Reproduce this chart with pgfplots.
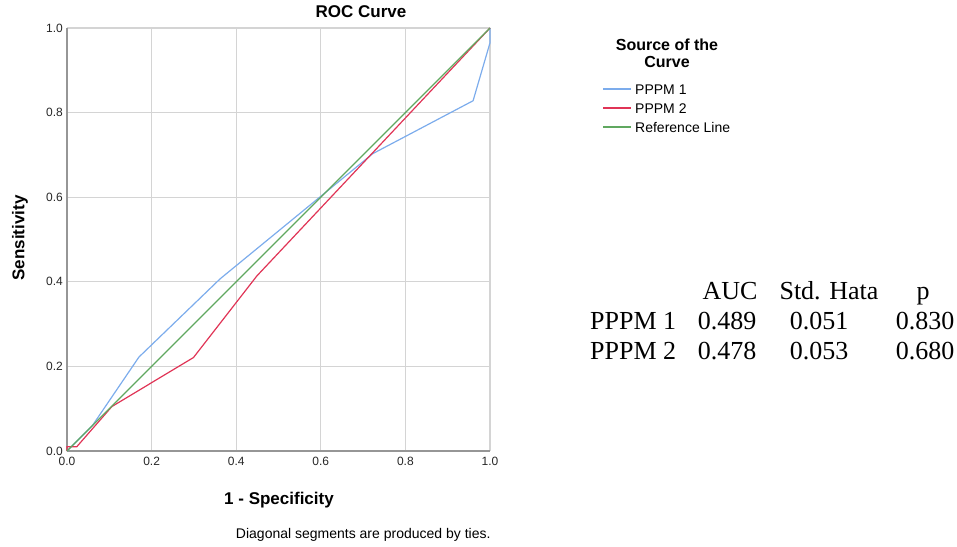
\documentclass[border=0pt]{standalone}
\usepackage{fontspec}
\setmainfont{Liberation Sans}
\newfontfamily\timesfont{Liberation Serif}
\usepackage{pgfplots}
\pgfplotsset{compat=1.18}

\definecolor{ppmblue}{RGB}{124,172,236}
\definecolor{ppmred}{RGB}{224,52,86}
\definecolor{refgreen}{RGB}{96,168,96}
\definecolor{gridgray}{RGB}{212,212,212}
\definecolor{axgray}{RGB}{150,150,150}

\begin{document}
\begin{tikzpicture}[x=1pt,y=1pt]
\path[use as bounding box] (0,0) rectangle (957,546);

\begin{axis}[
  at={(67pt,95pt)}, anchor=south west,
  width=423pt, height=423pt, scale only axis,
  xmin=0, xmax=1, ymin=0, ymax=1,
  axis lines=left,
  axis line style={-, draw=axgray, line width=1.5pt},
  grid=major,
  grid style={draw=gridgray, line width=1.3pt},
  major tick length=0pt,
  xtick={0,0.2,0.4,0.6,0.8,1},
  ytick={0,0.2,0.4,0.6,0.8,1},
  tick label style={font=\fontsize{12}{14}\selectfont, text=black!85, inner sep=1pt},
  xticklabel style={yshift=-5pt},
  yticklabel style={xshift=-3pt},
  xticklabel={\pgfmathprintnumber[fixed,fixed zerofill,precision=1,assume math mode=true]{\tick}},
  yticklabel={\pgfmathprintnumber[fixed,fixed zerofill,precision=1,assume math mode=true]{\tick}},
  clip=false,
]
% PPPM 1
\addplot[ppmblue, line width=1.2pt] coordinates {
  (0,0) (0.06,0.06) (0.170,0.222) (0.362,0.407) (0.723,0.703) (0.960,0.828) (1,0.965) (1,1)
};
% PPPM 2
\addplot[ppmred, line width=1.2pt] coordinates {
  (0,0) (0,0.010) (0.023,0.010) (0.106,0.105) (0.299,0.221) (0.449,0.414) (1,1)
};
% Reference line
\addplot[refgreen, line width=1.2pt] coordinates {(0,0) (1,1)};
\end{axis}

% titles and labels
\node[font=\fontsize{17}{20}\selectfont\bfseries, anchor=base] at (361,528) {ROC Curve};
\node[font=\fontsize{17}{20}\selectfont\bfseries, anchor=base] at (279,42) {1 - Specificity};
\node[font=\fontsize{17}{20}\selectfont\bfseries, rotate=90] at (20,308) {Sensitivity};
\node[font=\fontsize{14}{16}\selectfont, anchor=base east] at (494,8) {Diagonal segments are produced by ties.};

% legend
\node[font=\fontsize{16}{17.5}\selectfont\bfseries, anchor=base, inner sep=0pt] at (667,495) {Source of the};
\node[font=\fontsize{16}{17.5}\selectfont\bfseries, anchor=base, inner sep=0pt] at (667,478) {Curve};
\draw[ppmblue, line width=1.2pt] (603,457) -- (631,457);
\draw[ppmred, line width=1.2pt] (603,438) -- (631,438);
\draw[refgreen, line width=1.2pt] (603,419) -- (631,419);
\node[font=\fontsize{14}{16}\selectfont, anchor=base west, inner sep=0pt] at (635,451) {PPPM 1};
\node[font=\fontsize{14}{16}\selectfont, anchor=base west, inner sep=0pt] at (635,432) {PPPM 2};
\node[font=\fontsize{14}{16}\selectfont, anchor=base west, inner sep=0pt] at (635,413) {Reference Line};

% AUC table
\begin{scope}[every node/.style={font=\timesfont\fontsize{26}{30}\selectfont, inner sep=0pt}]
\node[anchor=base] at (730,246) {AUC};
\node[anchor=base] at (829,246) {Std. Hata};
\node[anchor=base] at (923,246) {p};
\node[anchor=base west] at (590,216) {PPPM 1};
\node[anchor=base west] at (590,186) {PPPM 2};
\node[anchor=base] at (727,216) {0.489};
\node[anchor=base] at (727,186) {0.478};
\node[anchor=base] at (819,216) {0.051};
\node[anchor=base] at (819,186) {0.053};
\node[anchor=base] at (925,216) {0.830};
\node[anchor=base] at (925,186) {0.680};
\end{scope}
\end{tikzpicture}
\end{document}
